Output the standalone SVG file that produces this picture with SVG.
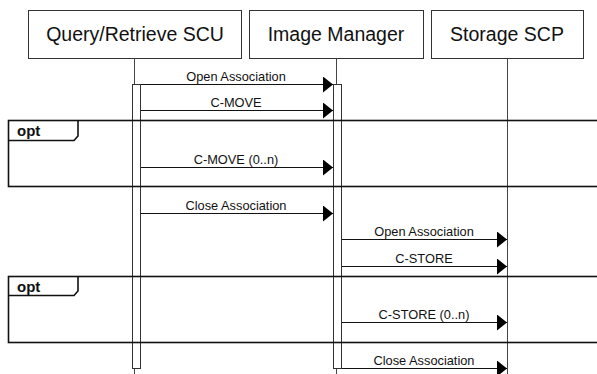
<svg xmlns="http://www.w3.org/2000/svg" width="597" height="374" viewBox="0 0 597 374">
<defs>
<style>
.box{fill:#fff;stroke:#333;stroke-width:1}
.life{stroke:#444;stroke-width:1;fill:none}
.act{fill:#fff;stroke:#333;stroke-width:1}
.msg{stroke:#111;stroke-width:1;fill:none}
.frame{fill:none;stroke:#111;stroke-width:1.6}
.nl{font-family:"Liberation Sans",Arial,sans-serif;font-size:19.5px;fill:#111;text-anchor:middle}
.ml{font-family:"Liberation Sans",Arial,sans-serif;font-size:12.8px;fill:#111;text-anchor:middle}
.ol{font-family:"Liberation Sans",Arial,sans-serif;font-size:15px;font-weight:bold;fill:#111}
</style>
<marker id="ah" viewBox="0 0 10 16" refX="10" refY="8" markerWidth="10" markerHeight="16" markerUnits="userSpaceOnUse" orient="auto">
<path d="M0,0 L10,8 L0,16 Z" fill="#000"/>
</marker>
</defs>
<rect width="597" height="374" fill="#fff"/>
<g id="lifelines">
<line class="life" x1="134.5" y1="58" x2="134.5" y2="374"/>
<line class="life" x1="336.5" y1="58" x2="336.5" y2="374"/>
<line class="life" x1="507.5" y1="58" x2="507.5" y2="374"/>
</g>
<g id="node-qr">
<rect class="box" x="28.5" y="10.5" width="213" height="48"/>
<text class="nl" x="135" y="41">Query/Retrieve SCU</text>
<rect class="act" x="132.5" y="84.5" width="8" height="284"/>
</g>
<g id="node-im">
<rect class="box" x="249.5" y="10.5" width="174" height="48"/>
<text class="nl" x="336" y="41">Image Manager</text>
<rect class="act" x="333.5" y="84.5" width="8" height="284"/>
</g>
<g id="node-scp">
<rect class="box" x="431.5" y="10.5" width="152" height="48"/>
<text class="nl" x="507" y="41">Storage SCP</text>
</g>
<g id="frame-opt1">
<rect class="frame" x="8.5" y="120.5" width="600" height="66"/>
<path class="frame" d="M8.5,140.5 H74 L78,136 V120.5"/>
<text class="ol" x="17" y="136">opt</text>
</g>
<g id="frame-opt2">
<rect class="frame" x="8.5" y="276.5" width="600" height="66"/>
<path class="frame" d="M8.5,295.5 H74 L78,291 V276.5"/>
<text class="ol" x="17" y="292">opt</text>
</g>
<g id="connectors">
<line class="msg" x1="141" y1="84.5" x2="333" y2="84.5" marker-end="url(#ah)"/>
<text class="ml" x="236" y="80.5">Open Association</text>
<line class="msg" x1="141" y1="110.5" x2="333" y2="110.5" marker-end="url(#ah)"/>
<text class="ml" x="236" y="106.5">C-MOVE</text>
<line class="msg" x1="141" y1="167.5" x2="333" y2="167.5" marker-end="url(#ah)"/>
<text class="ml" x="236" y="163.5">C-MOVE (0..n)</text>
<line class="msg" x1="141" y1="213.5" x2="333" y2="213.5" marker-end="url(#ah)"/>
<text class="ml" x="236" y="209.5">Close Association</text>
<line class="msg" x1="342" y1="239.5" x2="507" y2="239.5" marker-end="url(#ah)"/>
<text class="ml" x="424" y="236">Open Association</text>
<line class="msg" x1="342" y1="266.5" x2="507" y2="266.5" marker-end="url(#ah)"/>
<text class="ml" x="424" y="262.5">C-STORE</text>
<line class="msg" x1="342" y1="322.5" x2="507" y2="322.5" marker-end="url(#ah)"/>
<text class="ml" x="424" y="318.5">C-STORE (0..n)</text>
<line class="msg" x1="342" y1="368.5" x2="507" y2="368.5" marker-end="url(#ah)"/>
<text class="ml" x="424" y="365">Close Association</text>
</g>
</svg>
